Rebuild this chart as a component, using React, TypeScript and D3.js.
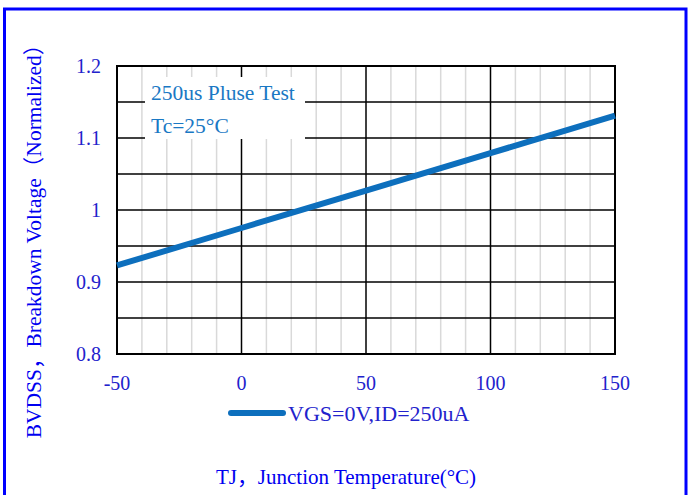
import { useEffect, useRef } from 'react';
import * as d3 from 'd3';

// BVDSS vs junction temperature (normalized)
const tempC = [-50, 0, 50, 100, 150];
const bvdss = [0.923, 0.975, 1.027, 1.079, 1.131];
const xTicks = [-50, 0, 50, 100, 150];
const yTicks = [0.8, 0.9, 1, 1.1, 1.2];
const yMajorGrid = [0.85, 0.9, 0.95, 1, 1.05, 1.1, 1.15];
const xMinorGrid = d3.range(-40, 150, 10).filter(v => v % 50 !== 0);
const notes = ['250us Pluse Test', 'Tc=25°C'];
const seriesName = 'VGS=0V,ID=250uA';

const W = 694;
const H = 495;
const LINE = '#0d6fbd';
const TICK = '#2222cc';
const TITLE = '#0000f0';
const FONT = '"Liberation Serif", "Noto Sans CJK SC", serif';

export default function App() {
  const svgRef = useRef<SVGSVGElement>(null);

  useEffect(() => {
    const svg = d3.select(svgRef.current);
    svg.selectAll('*').remove();

    const margin = { top: 66, right: 79, bottom: 141, left: 117 };
    const x = d3.scaleLinear().domain([-50, 150]).range([margin.left, W - margin.right]);
    const y = d3.scaleLinear().domain([0.8, 1.2]).range([H - margin.bottom, margin.top]);

    svg.append('rect').attr('width', W).attr('height', H).attr('fill', 'white');

    // outer blue frame
    svg.append('rect')
      .attr('x', 4.5).attr('y', 9)
      .attr('width', 681.5).attr('height', H + 20)
      .attr('fill', 'none').attr('stroke', '#0000ff').attr('stroke-width', 3);

    const g = svg.append('g');

    // minor vertical grid
    g.selectAll('.minor')
      .data(xMinorGrid)
      .enter().append('line')
      .attr('x1', d => x(d)).attr('x2', d => x(d))
      .attr('y1', y(0.8)).attr('y2', y(1.2))
      .attr('stroke', '#d9d9d9').attr('stroke-width', 1.5);

    // major grid
    g.selectAll('.vmajor')
      .data(xTicks)
      .enter().append('line')
      .attr('x1', d => x(d)).attr('x2', d => x(d))
      .attr('y1', y(0.8)).attr('y2', y(1.2))
      .attr('stroke', '#000').attr('stroke-width', 1.5);

    g.selectAll('.hmajor')
      .data(yMajorGrid)
      .enter().append('line')
      .attr('x1', x(-50)).attr('x2', x(150))
      .attr('y1', d => y(d)).attr('y2', d => y(d))
      .attr('stroke', '#000').attr('stroke-width', 1.5);

    // frame of plot
    g.append('rect')
      .attr('x', x(-50)).attr('y', y(1.2))
      .attr('width', x(150) - x(-50)).attr('height', y(0.8) - y(1.2))
      .attr('fill', 'none').attr('stroke', '#000').attr('stroke-width', 2);

    // annotation box
    g.append('rect')
      .attr('x', 145).attr('y', 77)
      .attr('width', 160).attr('height', 62)
      .attr('fill', 'white');
    g.selectAll('.note')
      .data(notes)
      .enter().append('text')
      .attr('x', 151)
      .attr('y', (d, i) => 100 + i * 33)
      .attr('font-family', FONT).attr('font-size', 21.5)
      .attr('fill', '#1a78c4')
      .text(d => d);

    // series line
    const line = d3.line<number>()
      .x((d, i) => x(tempC[i]))
      .y(d => y(d));
    g.append('path')
      .datum(bvdss)
      .attr('d', line)
      .attr('fill', 'none')
      .attr('stroke', LINE)
      .attr('stroke-width', 6);

    // tick labels
    g.selectAll('.ytick')
      .data(yTicks)
      .enter().append('text')
      .attr('x', 101)
      .attr('y', d => y(d))
      .attr('dy', '0.35em')
      .attr('text-anchor', 'end')
      .attr('font-family', FONT).attr('font-size', 20)
      .attr('fill', TICK)
      .text(d => String(d));

    g.selectAll('.xtick')
      .data(xTicks)
      .enter().append('text')
      .attr('x', d => x(d))
      .attr('y', 383)
      .attr('dy', '0.35em')
      .attr('text-anchor', 'middle')
      .attr('font-family', FONT).attr('font-size', 20)
      .attr('fill', TICK)
      .text(d => String(d));

    // legend
    g.append('line')
      .attr('x1', 231).attr('x2', 283)
      .attr('y1', 413).attr('y2', 413)
      .attr('stroke', LINE).attr('stroke-width', 6)
      .attr('stroke-linecap', 'round');
    g.append('text')
      .attr('x', 288).attr('y', 421)
      .attr('font-family', FONT).attr('font-size', 22)
      .attr('fill', TICK)
      .text(seriesName);

    // axis titles
    g.append('text')
      .attr('x', 346).attr('y', 484)
      .attr('text-anchor', 'middle')
      .attr('font-family', FONT).attr('font-size', 21)
      .attr('fill', TITLE)
      .text('TJ，Junction Temperature(°C)');

    g.append('text')
      .attr('transform', 'translate(41,236) rotate(-90)')
      .attr('text-anchor', 'middle')
      .attr('font-family', FONT).attr('font-size', 21.5)
      .attr('fill', TITLE)
      .text('BVDSS，Breakdown Voltage（Normalized）');
  }, []);

  return (
    <svg
      ref={svgRef}
      width={W}
      height={H}
      style={{ position: 'absolute', left: 0, top: 0 }}
    />
  );
}
